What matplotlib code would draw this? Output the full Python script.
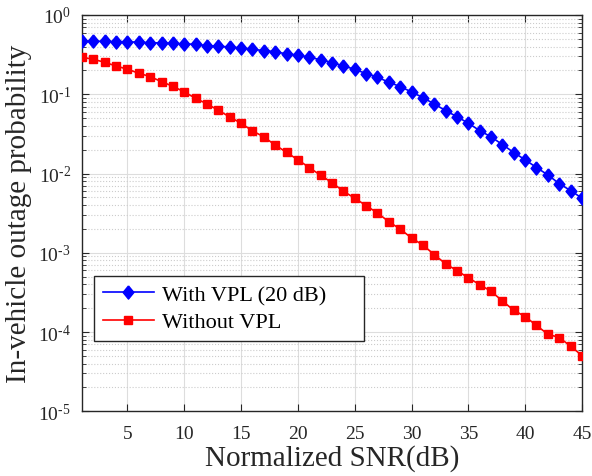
import numpy as np
import matplotlib
matplotlib.use('Agg')
import matplotlib.pyplot as plt
from matplotlib.ticker import LogLocator, FixedLocator, FuncFormatter

#----------------------------------------------
# data

snr_db = list(range(1, 46))

p_with_vpl = [0.466, 0.466, 0.466, 0.461, 0.461, 0.452, 0.448, 0.443, 0.440, 0.431,
              0.427, 0.410, 0.403, 0.395, 0.384, 0.369, 0.355, 0.345, 0.322, 0.313,
              0.292, 0.273, 0.250, 0.227, 0.207, 0.182, 0.164, 0.142, 0.125, 0.107,
              0.0906, 0.0755, 0.0621, 0.0522, 0.0431, 0.0348, 0.0290, 0.0232, 0.0184, 0.0149,
              0.0119, 0.0096, 0.00746, 0.00609, 0.00489]

p_without_vpl = [0.293, 0.276, 0.253, 0.227, 0.207, 0.184, 0.167, 0.144, 0.126, 0.107,
                 0.0889, 0.0755, 0.0628, 0.0517, 0.0431, 0.0345, 0.0290, 0.0229, 0.0185, 0.0149,
                 0.0119, 0.0095, 0.00768, 0.00598, 0.00489, 0.00394, 0.00318, 0.00247, 0.00199, 0.00154,
                 0.00125, 0.00095, 0.000725, 0.000597, 0.000483, 0.000397, 0.000327, 0.000247, 0.000188, 0.000157,
                 0.000121, 0.0000940, 0.0000853, 0.0000664, 0.0000506]

x_ticks = [5, 10, 15, 20, 25, 30, 35, 40, 45]
labels = ['With VPL (20 dB)', 'Without VPL']

#----------------------------------------------

plt.rcParams['font.family'] = ['Liberation Serif', 'DejaVu Serif']
plt.rcParams['mathtext.fontset'] = 'custom'
plt.rcParams['mathtext.rm'] = 'Liberation Serif'
plt.rcParams['mathtext.it'] = 'Liberation Serif'

# matlab-ish diamond, a bit taller than wide
diamond = [(0, 1), (0.82, 0), (0, -1), (-0.82, 0), (0, 1)]

def decade_label(v, pos):
    return r'$10^{\text{-}%d}$' % abs(round(np.log10(v))) if v < 1 else r'$10^{0}$'

fig = plt.figure(figsize=(5.92, 4.77), dpi=100)
ax = fig.add_axes([0.1385, 0.1356, 0.8445, 0.8309])

ax.semilogy(snr_db, p_with_vpl, color='#0000ff', marker=diamond, markersize=9.5,
            linewidth=1.2, label=labels[0], zorder=3)
ax.semilogy(snr_db, p_without_vpl, color='#ff0000', marker='s', markersize=6,
            linewidth=1.2, label=labels[1], zorder=3)

ax.set_xlim(1, 45)
ax.set_ylim(1e-5, 1)
ax.xaxis.set_major_locator(FixedLocator(x_ticks))
ax.yaxis.set_major_locator(LogLocator(base=10, numticks=10))
ax.yaxis.set_minor_locator(LogLocator(base=10, subs=np.arange(2, 10), numticks=10))
ax.yaxis.set_major_formatter(FuncFormatter(decade_label))

ax.grid(which='major', color='#dddddd', linestyle='-', linewidth=0.8)
ax.grid(which='minor', axis='y', color='#cccccc', linestyle=':', linewidth=0.8)
ax.set_axisbelow(True)

ax.tick_params(which='both', direction='in', top=True, right=True, labelsize=14,
               colors='#262626')
ax.tick_params(axis='x', pad=10)
ax.tick_params(axis='y', pad=8)
ax.tick_params(which='major', length=5)
ax.tick_params(which='minor', length=3)
for s in ax.spines.values():
    s.set_color('#262626')
    s.set_linewidth(1.0)

ax.set_xlabel('Normalized SNR(dB)', fontsize=21, color='#262626', labelpad=1)
ax.set_ylabel('In-vehicle outage probability', fontsize=21, color='#262626', labelpad=4)

# matlab legend box is wider than its text, so stretch it
leg = ax.legend(loc='lower left', bbox_to_anchor=(0.024, 0.177, 0.54, 0.1), mode='expand',
                fontsize=16, fancybox=False, edgecolor='#262626', framealpha=1,
                borderpad=0.4, handlelength=2.3, handletextpad=0.35,
                labelspacing=0.3, borderaxespad=0)
leg.get_frame().set_linewidth(1.0)

fig.savefig('out.png', dpi=100)
